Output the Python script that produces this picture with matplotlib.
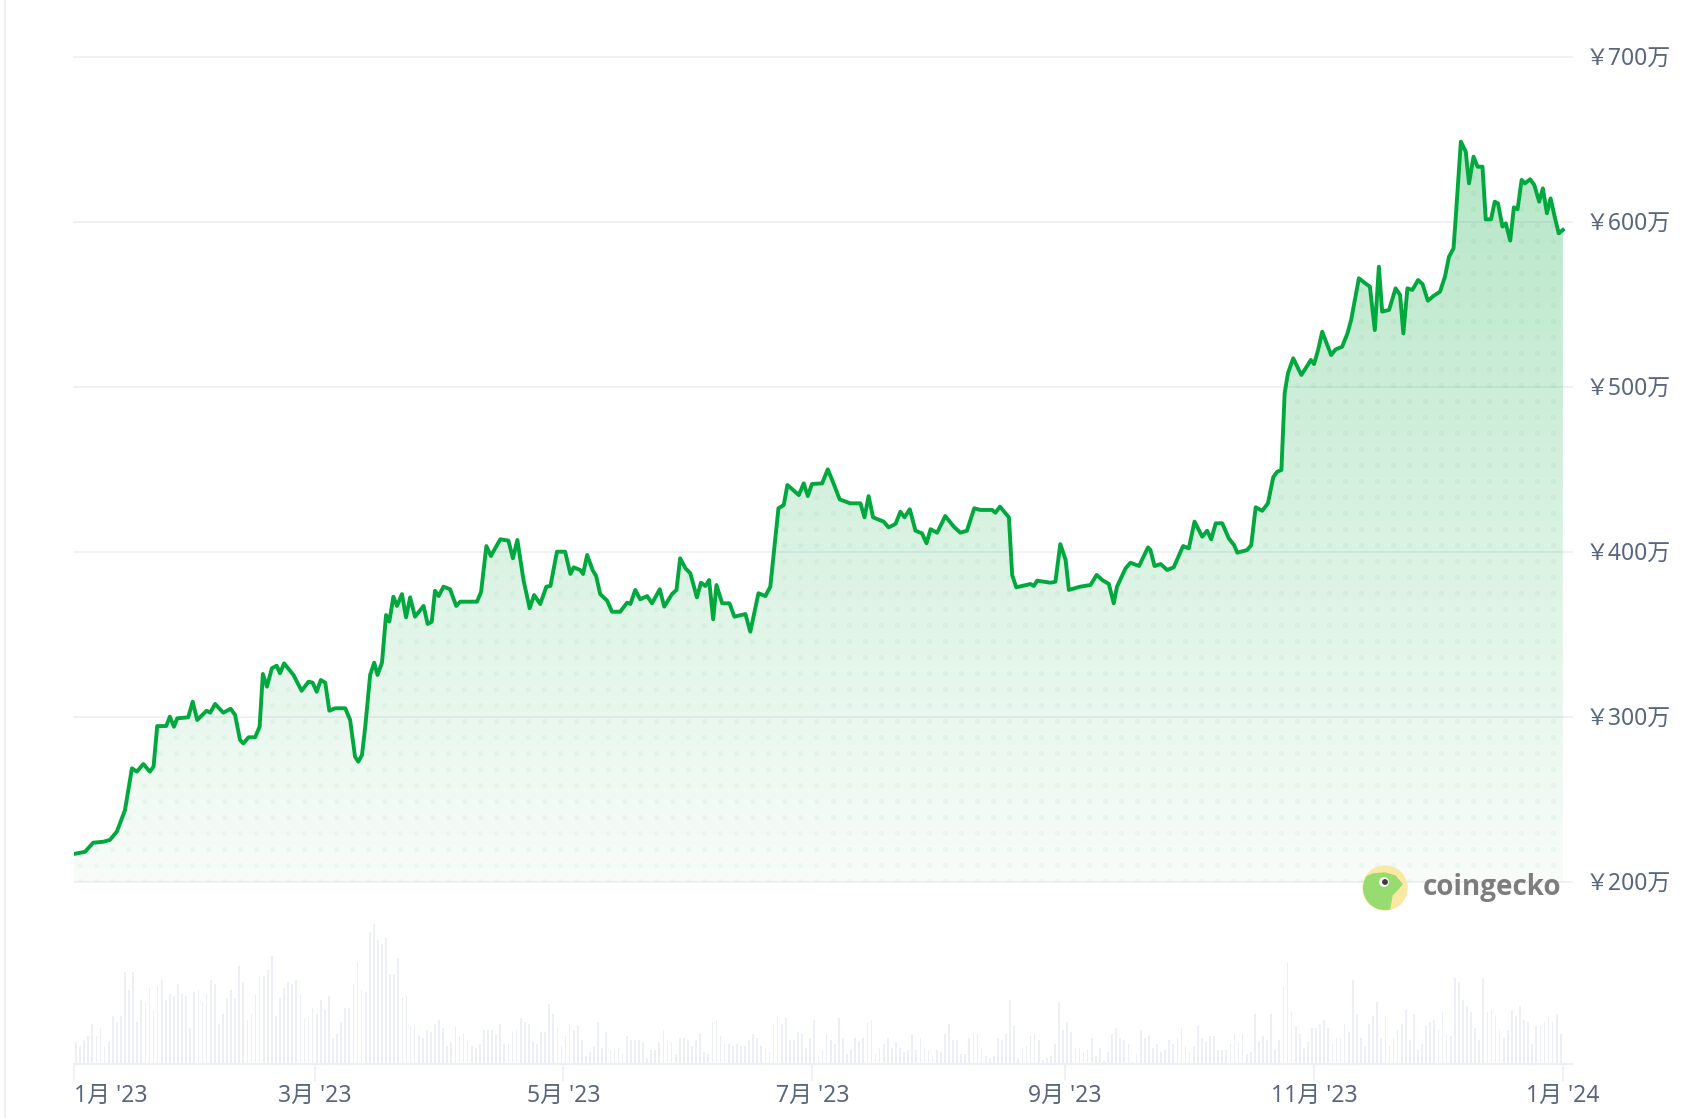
import numpy as np
import pandas as pd
import matplotlib
matplotlib.use('Agg')
import matplotlib.pyplot as plt
from matplotlib.patches import Circle, Polygon
from matplotlib.lines import Line2D

plt.rcParams['font.family'] = ['Noto Sans', 'Noto Sans CJK JP', 'DejaVu Sans']

W, H = 1694, 1118
start = pd.Timestamp('2023-01-01')

# BTC/JPY price, days since 1 Jan 2023 and value in 万円
days = [0.0, 2.7, 4.7, 7.2, 8.8, 10.5, 12.5, 14.2, 15.4, 17.0, 18.6, 19.5, 20.4, 22.6, 23.5, 24.5, 25.3, 28.0, 29.1, 30.2,
        32.5, 33.4, 34.6, 36.6, 38.4, 39.5, 40.7, 41.5, 42.8, 44.4, 45.5, 46.3, 47.3, 48.5, 49.7, 50.5, 51.5, 53.8, 55.8, 57.5,
        58.5, 59.5, 60.5, 61.6, 62.6, 64.0, 66.5, 67.7, 68.9, 69.7, 70.6, 71.4, 72.6, 73.6, 74.4, 75.5, 76.5, 77.3, 78.3, 79.2,
        80.4, 81.4, 82.4, 83.6, 85.7, 86.7, 87.7,
        88.5, 89.4, 90.6, 92.2, 93.7, 94.7, 98.8, 99.8, 101.1, 102.2, 104.5, 106.5, 107.6, 108.7, 110.2, 111.7, 112.8, 114.3, 115.8, 116.8,
        118.4, 120.4, 121.7, 122.5, 124.1, 124.8, 125.8, 127.2, 128.0, 129.0, 130.7, 131.9, 133.9, 135.6, 136.4, 137.6, 138.8, 140.5, 141.7, 143.6,
        144.7, 146.6, 147.7, 148.6, 149.9, 151.1, 152.7, 153.7, 154.8, 155.7, 156.7, 157.5, 158.9, 160.7, 161.9, 164.6, 165.8, 167.8, 169.5, 170.7,
        172.7, 174.0, 174.9, 177.7,
        178.9, 179.9, 180.9, 183.4, 184.8, 186.2, 187.7, 190.3, 192.8, 193.8, 194.8, 195.9, 198.5, 199.7, 201.4, 202.6, 203.6, 204.9, 206.3, 207.9,
        209.0, 210.0, 211.6, 213.6, 215.7, 217.3, 218.9, 220.7, 222.2, 225.1, 225.9, 227.0, 229.2, 230.0, 231.0, 234.5, 235.3, 236.1, 239.4, 240.6,
        241.8, 243.1, 243.9, 246.7, 249.2, 250.7, 252.1, 253.7, 254.9, 255.7, 257.8, 259.0, 261.1, 263.3, 263.9, 264.9, 266.4, 268.0, 269.6, 271.9,
        273.3, 274.7,
        276.6, 277.8, 278.8, 279.9, 281.5, 283.1, 284.4, 285.2, 287.6, 288.6, 289.7, 291.3, 292.7, 294.0, 295.0, 296.0, 296.8, 297.6, 298.9, 300.9,
        302.3, 303.2, 304.0, 305.0, 306.0, 307.1, 308.2, 309.3, 310.9, 312.2, 313.1, 315.0, 316.6, 317.7, 318.9, 319.9, 320.7, 322.4, 324.0, 325.1,
        325.9, 326.9, 328.1, 329.5, 330.6, 331.9, 333.3, 334.9, 336.1, 337.1, 338.2, 338.7, 340.0, 341.2, 342.0, 343.1, 344.1, 345.3, 346.1, 347.4,
        348.3, 349.1, 350.2, 351.0, 352.1, 353.0, 353.9, 354.9, 355.7, 357.0, 358.0, 359.2, 360.1, 361.1, 362.0, 363.0, 364.0, 365.0]

price = [217.0, 218.3, 223.8, 224.4, 225.5, 230.5, 243.6, 268.9, 266.9, 271.5, 266.9, 269.9, 294.5, 294.5, 300.2, 294.1, 299.2, 299.8, 309.3, 298.2,
         303.8, 302.6, 307.9, 302.6, 305.0, 301.2, 286.1, 284.0, 287.7, 287.7, 294.1, 326.1, 318.4, 329.5, 331.1, 326.5, 332.5, 325.5, 315.9, 321.4,
         320.8, 315.3, 322.4, 320.8, 303.8, 305.3, 305.3, 298.2, 275.9, 272.9, 277.0, 294.1, 325.5, 332.9, 325.5, 332.9, 361.8, 357.8, 372.9, 367.3,
         374.5, 360.4, 372.5, 360.8, 367.3, 356.4, 357.8,
         376.5, 373.3, 379.0, 377.4, 367.3, 369.9, 369.9, 375.9, 403.6, 397.6, 407.7, 406.9, 396.2, 407.3, 383.0, 365.9, 373.9, 368.5, 379.0, 379.4,
         400.2, 400.2, 386.7, 390.7, 389.1, 386.7, 398.2, 388.7, 385.5, 374.5, 370.5, 363.8, 363.8, 369.3, 368.5, 377.0, 371.3, 373.3, 368.9, 377.4,
         366.9, 374.5, 377.0, 396.2, 390.1, 387.1, 372.5, 381.4, 379.4, 383.0, 359.2, 380.0, 368.9, 368.9, 360.8, 362.4, 351.7, 375.0, 373.3, 379.0,
         426.5, 428.5, 440.6, 434.5,
         441.6, 433.9, 441.2, 441.6, 450.1, 441.6, 431.9, 429.5, 429.5, 421.0, 433.9, 421.0, 418.4, 414.9, 417.0, 424.4, 421.0, 425.9, 412.9, 411.3,
         405.3, 413.8, 411.7, 421.8, 415.3, 411.7, 412.9, 426.5, 425.5, 425.5, 423.8, 427.5, 421.0, 386.1, 378.6, 380.6, 379.4, 382.6, 381.4, 382.0,
         404.8, 395.2, 377.0, 379.0, 380.0, 386.1, 383.0, 380.6, 368.9, 379.0, 390.1, 393.5, 391.5, 402.8, 401.2, 391.5, 392.7, 389.1, 390.7, 403.6,
         402.2, 418.4,
         409.3, 412.9, 407.7, 417.4, 417.4, 408.3, 404.2, 399.6, 401.2, 404.2, 427.1, 425.0, 429.5, 445.3, 448.7, 449.7, 496.2, 508.3, 517.4, 507.3,
         512.7, 516.4, 513.9, 522.4, 533.5, 526.5, 519.4, 522.8, 524.4, 532.5, 540.6, 565.9, 562.8, 560.8, 534.5, 572.9, 545.7, 546.7, 559.8, 555.8,
         532.5, 559.8, 558.8, 564.8, 562.4, 552.3, 555.2, 557.8, 566.9, 579.0, 584.0, 601.2, 648.7, 642.6, 623.4, 639.6, 633.5, 633.5, 601.6, 601.6,
         612.3, 611.3, 597.2, 599.2, 588.7, 608.9, 607.7, 625.5, 623.4, 625.9, 622.4, 612.3, 620.4, 605.3, 614.3, 603.2, 593.1, 595.2]

# daily volume, relative units (bar heights)
volume = [22, 18, 24, 28, 40, 28, 36, 18, 22, 48, 42, 48, 92, 74, 92, 42, 64, 62, 76, 54,
          78, 84, 64, 70, 68, 80, 70, 68, 36, 72, 74, 62, 70, 84, 80, 40, 50, 66, 74, 66,
          98, 82, 44, 50, 70, 88, 88, 94, 108, 48, 66, 76, 82, 80, 84, 70, 46, 48, 56, 50,
          64, 54, 68, 26, 30, 42, 56, 56, 80, 102, 74, 72, 132, 140, 124, 120, 126, 90, 90, 106,
          66, 68, 38, 40, 28, 26, 34, 32, 40, 44,
          36, 18, 22, 38, 28, 30, 24, 18, 16, 20, 34, 34, 34, 30, 40, 20, 20, 32, 34, 46,
          42, 40, 22, 20, 32, 32, 60, 50, 36, 18, 28, 40, 34, 38, 24, 8, 12, 18, 42, 16,
          32, 14, 16, 16, 10, 28, 24, 24, 24, 22, 6, 14, 14, 22, 34, 24, 22, 10, 26, 26,
          24, 18, 24, 30, 12, 10, 42, 44, 28, 20, 20, 18, 20, 18, 18, 24, 30, 26, 18, 16,
          12, 40, 48, 40, 46, 24, 24, 32, 30, 16, 26,
          44, 8, 14, 30, 24, 20, 46, 26, 10, 14, 26, 22, 26, 42, 44, 10, 16, 20, 26, 16,
          22, 16, 12, 14, 30, 14, 26, 16, 14, 8, 14, 12, 30, 40, 24, 24, 10, 10, 26, 30,
          30, 16, 8, 6, 8, 26, 24, 30, 64, 38, 6, 16, 18, 28, 30, 24, 4, 6, 8, 20,
          62, 34, 42, 32, 16, 16, 12, 14, 26, 8, 16, 3, 12, 30, 36, 26, 24, 20, 3, 10,
          34, 26, 28, 16, 20, 12, 14, 24, 20, 26,
          36, 18, 12, 18, 38, 26, 22, 28, 28, 14, 14, 14, 20, 30, 22, 30, 10, 12, 50, 22,
          28, 24, 50, 14, 24, 78, 102, 52, 38, 30, 16, 22, 36, 36, 40, 44, 36, 20, 26, 26,
          40, 32, 84, 50, 26, 18, 40, 48, 62, 26, 48, 18, 26, 34, 40, 54, 24, 50, 14, 20,
          38, 42, 44, 34, 52, 30, 28, 86, 82, 64, 58, 52, 36, 24, 86, 52, 54, 48, 34, 26,
          34, 54, 48, 58, 44, 42, 20, 38, 38, 42, 48, 42, 50, 30]

month_starts = ['2023-01-01', '2023-03-01', '2023-05-01', '2023-07-01', '2023-09-01', '2023-11-01', '2024-01-01']
month_labels = ["1月 '23", "3月 '23", "5月 '23", "7月 '23", "9月 '23", "11月 '23", "1月 '24"]
price_ticks = [200, 300, 400, 500, 600, 700]
price_labels = ['￥%d万' % v for v in price_ticks]

GREEN = '#00a83e'
GRID = '#eff0f3'
LABEL = '#58667e'

# plot area in pixels
L, R, T, B = 74, 1572, 57, 882
PX_DAY = 4.079
XMAX = (R - L) / PX_DAY


def box(l, t, r, b):
    return [l / W, 1 - b / H, (r - l) / W, (b - t) / H]


fig = plt.figure(figsize=(W / 100, H / 100), dpi=100)
fig.patch.set_facecolor('white')

# ---- price panel
ax = fig.add_axes(box(L, T, R, B))
ax.set_xlim(0, XMAX)
ax.set_ylim(200, 700)
for s in ax.spines.values():
    s.set_visible(False)
ax.tick_params(axis='x', bottom=False, labelbottom=False)
ax.yaxis.tick_right()
ax.set_yticks(price_ticks, price_labels)
ax.tick_params(axis='y', length=0, pad=10, labelsize=16.5, labelcolor=LABEL)
for v in price_ticks:
    ax.axhline(v, color=GRID, lw=1.3, clip_on=False, zorder=0)

# gradient + dotted texture under the line
nr, nc = B - T, R - L
rows = np.arange(nr)
vals = 700 - rows * 500 / nr
top = max(price)
alpha = 0.03 + 0.26 * np.clip((vals - 200) / (top - 200), 0, 1)
xx, yy = np.meshgrid(np.arange(nc), rows)
dots = ((xx % 16) - 6) ** 2 + ((yy % 16) - 8) ** 2 <= 5
img = np.zeros((nr, nc, 4))
img[..., 0] = 0 / 255
img[..., 1] = 168 / 255
img[..., 2] = 62 / 255
img[..., 3] = alpha[:, None] + dots * 0.045
area = ax.fill_between(days, price, 200, facecolor='none', edgecolor='none')
im = ax.imshow(img, extent=(0, XMAX, 200, 700), aspect='auto', origin='upper',
               interpolation='nearest', zorder=1)
im.set_clip_path(area.get_paths()[0], transform=ax.transData)
ax.plot(days, price, color=GREEN, lw=2.8, solid_joinstyle='round', zorder=3)

# ---- volume panel
vax = fig.add_axes(box(L, 914, R, 1064))
vax.bar(np.arange(len(volume)) + 0.5, volume, width=0.42, color='#eceff5', linewidth=0)
vax.set_xlim(0, XMAX)
vax.set_ylim(0, 150)
for k in ['top', 'left', 'right']:
    vax.spines[k].set_visible(False)
vax.spines['bottom'].set_color('#eceff3')
vax.spines['bottom'].set_linewidth(1.5)
vax.set_yticks([])
tick_pos = [(pd.Timestamp(d) - start).days for d in month_starts]
vax.set_xticks(tick_pos, month_labels)
vax.get_xticklabels()[0].set_ha('left')
vax.tick_params(axis='x', length=12, width=1.2, color='#eceff3', pad=2,
                labelsize=16.5, labelcolor=LABEL)

# ---- coingecko watermark
lax = fig.add_axes(box(1360, 864, 1410, 912))
lax.set_xlim(-25, 25)
lax.set_ylim(-24, 24)
lax.set_aspect('equal')
lax.axis('off')
disc = Circle((0, 0), 22, color='#fae9a3')
lax.add_patch(disc)
head = Polygon([(-24, 9), (-12, 14), (0, 15), (10, 12), (17, 4), (13, -1), (7, -7),
                (4, -24), (-24, -24)], closed=True, color='#96dc70')
lax.add_patch(head)
head.set_clip_path(disc)
lax.add_patch(Circle((-1, 6), 4.2, color='white'))
lax.add_patch(Circle((0, 6), 2.2, color='#3d3d3d'))
fig.text(1423 / W, 1 - 887 / H, 'coingecko', fontsize=20, fontweight='bold',
         color='#7d7d7d', family=['Open Sans', 'DejaVu Sans'], va='center', ha='left')

# thin frame line at the left edge
fig.add_artist(Line2D([4.5 / W, 4.5 / W], [0, 1], color='#eef0f3', lw=1.5))

fig.savefig('out.png', dpi=100)
